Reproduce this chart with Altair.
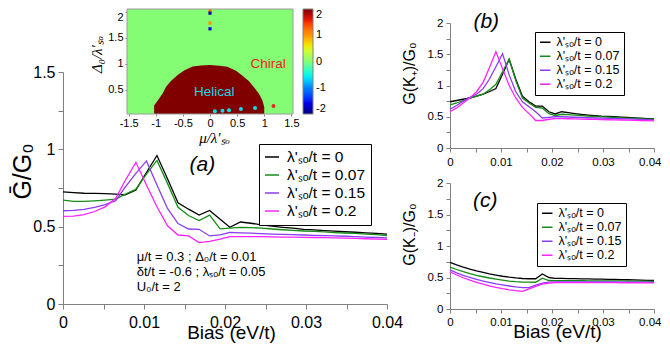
import altair as alt
import pandas as pd

# ---------------- data ----------------
bias = [0, 0.0013, 0.0026, 0.0039, 0.0052, 0.0065, 0.0077, 0.009, 0.0103, 0.0116,
        0.0129, 0.0142, 0.0155, 0.0168, 0.0181, 0.0194, 0.0206, 0.0219, 0.0232, 0.0245,
        0.0258, 0.0271, 0.0284, 0.0297, 0.031, 0.0323, 0.0335, 0.0348, 0.0361, 0.0374,
        0.0387, 0.04]

series_names = ["λ'ₛₒ/t = 0", "λ'ₛₒ/t = 0.07", "λ'ₛₒ/t = 0.15", "λ'ₛₒ/t = 0.2"]
series_colors = ["#000000", "#168c16", "#8a3cf2", "#ff22ff"]

a_black = [0.725, 0.72, 0.716, 0.715, 0.714, 0.711, 0.706, 0.737, 0.85, 0.96,
           0.81, 0.655, 0.613, 0.575, 0.605, 0.548, 0.496, 0.53, 0.522, 0.512,
           0.503, 0.496, 0.49, 0.483, 0.479, 0.475, 0.471, 0.467, 0.464, 0.46,
           0.457, 0.452]
a_green = [0.672, 0.664, 0.663, 0.667, 0.672, 0.678, 0.71, 0.742, 0.84, 0.928,
           0.78, 0.625, 0.572, 0.54, 0.575, 0.486, 0.49, 0.496, 0.494, 0.49,
           0.485, 0.48, 0.476, 0.472, 0.469, 0.466, 0.462, 0.459, 0.456, 0.452,
           0.448, 0.443]
a_purple = [0.603, 0.605, 0.612, 0.625, 0.643, 0.668, 0.757, 0.845, 0.925, 0.77,
            0.618, 0.52, 0.485, 0.483, 0.44, 0.447, 0.463, 0.46, 0.458, 0.455,
            0.452, 0.45, 0.448, 0.446, 0.444, 0.442, 0.44, 0.438, 0.436, 0.433,
            0.43, 0.427]
a_magenta = [0.566, 0.568, 0.578, 0.598, 0.628, 0.683, 0.80, 0.916, 0.77, 0.629,
             0.506, 0.446, 0.44, 0.397, 0.405, 0.42, 0.435, 0.436, 0.436, 0.435,
             0.434, 0.433, 0.432, 0.431, 0.43, 0.429, 0.428, 0.426, 0.424, 0.422,
             0.42, 0.418]

b_black = [0.74, 0.76, 0.78, 0.80, 0.83, 0.86, 0.90, 0.95, 1.18, 1.42,
           1.10, 0.83, 0.74, 0.67, 0.67, 0.58, 0.545, 0.58, 0.565, 0.55,
           0.537, 0.527, 0.518, 0.51, 0.505, 0.5, 0.494, 0.488, 0.482, 0.476,
           0.47, 0.465]
b_green = [0.69, 0.72, 0.76, 0.80, 0.83, 0.86, 0.93, 1.02, 1.22, 1.42,
           1.08, 0.80, 0.72, 0.65, 0.64, 0.55, 0.52, 0.54, 0.535, 0.526,
           0.517, 0.51, 0.504, 0.498, 0.493, 0.488, 0.483, 0.478, 0.473, 0.468,
           0.463, 0.458]
b_purple = [0.62, 0.68, 0.75, 0.81, 0.86, 0.95, 1.10, 1.30, 1.51, 1.17,
            0.90, 0.74, 0.66, 0.58, 0.48, 0.49, 0.50, 0.50, 0.496, 0.492,
            0.488, 0.484, 0.48, 0.477, 0.474, 0.471, 0.468, 0.465, 0.461, 0.457,
            0.453, 0.45]
b_magenta = [0.58, 0.64, 0.72, 0.80, 0.90, 1.05, 1.28, 1.54, 1.27, 1.0,
             0.80, 0.65, 0.55, 0.44, 0.44, 0.46, 0.47, 0.47, 0.468, 0.465,
             0.462, 0.46, 0.457, 0.455, 0.452, 0.45, 0.448, 0.445, 0.443, 0.44,
             0.438, 0.435]

c_black = [0.74, 0.70, 0.665, 0.633, 0.605, 0.58, 0.558, 0.538, 0.52, 0.505,
           0.493, 0.484, 0.48, 0.48, 0.555, 0.50, 0.486, 0.485, 0.483, 0.481,
           0.479, 0.477, 0.475, 0.473, 0.471, 0.469, 0.467, 0.464, 0.461, 0.458,
           0.455, 0.452]
c_green = [0.665, 0.627, 0.592, 0.562, 0.535, 0.512, 0.492, 0.474, 0.458, 0.444,
           0.433, 0.426, 0.425, 0.425, 0.49, 0.452, 0.45, 0.45, 0.45, 0.449,
           0.449, 0.448, 0.448, 0.447, 0.446, 0.445, 0.445, 0.444, 0.443, 0.442,
           0.441, 0.44]
c_purple = [0.62, 0.575, 0.535, 0.5, 0.47, 0.444, 0.421, 0.4, 0.382, 0.365,
            0.35, 0.34, 0.338, 0.38, 0.41, 0.425, 0.43, 0.43, 0.43, 0.43,
            0.43, 0.43, 0.43, 0.43, 0.429, 0.429, 0.428, 0.428, 0.427, 0.426,
            0.425, 0.424]
c_magenta = [0.59, 0.54, 0.496, 0.458, 0.424, 0.394, 0.366, 0.342, 0.322, 0.305,
             0.291, 0.28, 0.32, 0.36, 0.395, 0.41, 0.42, 0.42, 0.42, 0.42,
             0.42, 0.42, 0.419, 0.419, 0.418, 0.418, 0.417, 0.417, 0.416, 0.415,
             0.415, 0.414]

inset_mu_extent = [-1.53, 1.53]
inset_delta_extent = [0.036, 2.05]
dome_mu = [-1.03, -1.03, -0.96, -0.87, -0.81, -0.72, -0.59, -0.47, -0.32, -0.17, 0.0,
           0.17, 0.32, 0.48, 0.60, 0.72, 0.81, 0.90, 0.965, 1.0, 1.0]
dome_delta = [0.036, 0.2, 0.3, 0.435, 0.56, 0.67, 0.79, 0.875, 0.945, 0.965, 0.975,
              0.96, 0.94, 0.865, 0.77, 0.665, 0.55, 0.43, 0.3, 0.17, 0.036]
dome_value = 2
background_value = 0
blob_mu = [0, 0, 0, 0]
blob_delta = [2.02, 1.97, 1.78, 1.67]
blob_value = [1.2, -1.8, 1.0, -1.6]
helical_dot_mu = [0.09, 0.23, 0.35, 0.57, 0.83]
helical_dot_delta = [0.087, 0.10, 0.11, 0.13, 0.15]
chiral_dot_mu = [1.17]
chiral_dot_delta = [0.19]
jet_domain = [-2, -1.5, -1, -0.5, 0, 0.5, 1, 1.5, 2]
jet_colors = ["#000080", "#0000ff", "#0080ff", "#14ffe2", "#84fd74",
              "#e2ff14", "#ff9700", "#ff2100", "#800000"]
colorbar_ticks = [-2, -1, 0, 1, 2]
inset_x_ticks = [-1.5, -1, -0.5, 0, 0.5, 1, 1.5]
inset_y_ticks = [0.5, 1, 1.5, 2]

x_ticks = [0, 0.005, 0.01, 0.015, 0.02, 0.025, 0.03, 0.035, 0.04]
x_major = [0, 0.01, 0.02, 0.03, 0.04]
ya_ticks = [0, 0.25, 0.5, 0.75, 1, 1.25, 1.5]
ya_major = [0, 0.5, 1, 1.5]
ybc_ticks = [0, 0.25, 0.5, 0.75, 1, 1.25, 1.5, 1.75, 2]
ybc_major = [0, 0.5, 1, 1.5, 2]

# ---------------- styling ----------------
FONT = "Liberation Sans"
GRAY = "#808080"
W, H = 654, 336


def long_df(panel_vals):
    rows = []
    for name, ys in zip(series_names, panel_vals):
        for b, g in zip(bias, ys):
            rows.append({"bias": b, "G": g, "series": name})
    return pd.DataFrame(rows)


def label_expr(major):
    return f"indexof({major}, datum.value) >= 0 ? '' + datum.value : ''"


def make_axis(orient, offset, ticks, major, label_size, tick=5, pad=3, title=None,
              title_size=20, title_x=None, title_y=None, flush_last=False):
    kw = dict(orient=orient, offset=offset, values=ticks, labelExpr=label_expr(major),
              tickSize=tick, tickColor=GRAY, domainColor=GRAY,
              labelFont=FONT, labelFontSize=label_size, labelColor="black",
              labelPadding=pad, labelOverlap=False, labelFlush=False, grid=False)
    if flush_last:
        kw["labelAlign"] = {"condition": {"test": "datum.value == 0.04", "value": "right"},
                            "value": "center"}
        kw["labelOffset"] = {"condition": {"test": "datum.value == 0.04", "value": 7},
                             "value": 0}
    if title:
        kw.update(title=title, titleFont=FONT, titleFontSize=title_size,
                  titleFontWeight="normal", titleColor="black",
                  titleBaseline="alphabetic", titleX=title_x, titleY=title_y)
    else:
        kw["title"] = None
    return alt.Axis(**kw)


def make_legend(x, y, fs, sym, pad, rowpad, loff):
    return alt.Legend(orient="none", legendX=x, legendY=y, title=None, symbolType="stroke",
                      symbolSize=sym, symbolStrokeWidth=1.5, labelFont=FONT,
                      labelFontSize=fs, labelOffset=loff, padding=pad, rowPadding=rowpad,
                      labelLimit=400, strokeColor="black", fillColor="white",
                      cornerRadius=0, labelColor="black")


def panel(vals, xrange, yrange, ydom, xaxis, yaxis, leg_args, texts):
    df = long_df(vals)
    xs = alt.Scale(domain=[0, 0.04], range=xrange, nice=False, zero=False)
    ys = alt.Scale(domain=ydom, range=yrange, nice=False, zero=False)
    cs = alt.Scale(domain=series_names, range=series_colors)
    lines = alt.Chart(df).mark_line(strokeWidth=1.3).encode(
        x=alt.X("bias:Q", scale=xs, axis=xaxis),
        y=alt.Y("G:Q", scale=ys, axis=yaxis),
        color=alt.Color("series:N", scale=cs, legend=make_legend(*leg_args)),
    )
    layers = [lines]
    for tx, ty, txt, kw in texts:
        layers.append(
            alt.Chart(pd.DataFrame({"k": [0]})).mark_text(text=txt, font=FONT, **kw).encode(
                x=alt.XDatum(tx, type="quantitative", scale=xs, axis=xaxis),
                y=alt.YDatum(ty, type="quantitative", scale=ys, axis=yaxis),
            )
        )
    return alt.layer(*layers)


label_kw = dict(fontSize=21, fontStyle="italic", align="center", baseline="middle")
note_kw = dict(fontSize=13, align="left", baseline="middle")

pa = panel(
    [a_black, a_green, a_purple, a_magenta], [55, 379], [296, 64], [0, 1.5],
    make_axis("bottom", -40, x_ticks, x_major, 16, pad=5, title="Bias (eV/t)",
              title_size=19, title_x=223, title_y=34),
    make_axis("left", -55, ya_ticks, ya_major, 16, pad=3, title="Ḡ/G₀", title_size=25,
              title_x=-33, title_y=163),
    (251, 136, 15.5, 196, 5, 1, 7),
    [(0.0172, 0.90, "(a)", label_kw),
     (0.0091, 0.307, "μ/t = 0.3 ; Δ₀/t = 0.01", note_kw),
     (0.0091, 0.21, "δt/t = -0.6 ; λₛₒ/t = 0.05", note_kw),
     (0.0091, 0.113, "U₀/t = 2", note_kw)],
)

pb = panel(
    [b_black, b_green, b_purple, b_magenta], [442, 646], [140, 15], [0, 2],
    make_axis("bottom", -196, x_ticks, x_major, 11.5, tick=4, pad=4, flush_last=True),
    make_axis("left", -442, ybc_ticks, ybc_major, 11.5, tick=4, pad=3, title="G(K₊)/G₀",
              title_size=16, title_x=-36, title_y=65),
    (527, 24, 12.5, 110, 4, 1, 5),
    [(0.0071, 2.02, "(b)", label_kw)],
)

pc = panel(
    [c_black, c_green, c_purple, c_magenta], [442, 646], [301, 175], [0, 2],
    make_axis("bottom", -35, x_ticks, x_major, 11.5, tick=4, pad=3, title="Bias (eV/t)",
              title_size=19, title_x=549, title_y=28, flush_last=True),
    make_axis("left", -442, ybc_ticks, ybc_major, 11.5, tick=4, pad=3, title="G(K₋)/G₀",
              title_size=16, title_x=-36, title_y=226),
    (529, 195, 12.5, 110, 4, 1, 5),
    [(0.0069, 1.72, "(c)", label_kw)],
)

# ---------------- inset ----------------
xi = alt.Scale(domain=inset_mu_extent, range=[119, 285], nice=False, zero=False)
yi = alt.Scale(domain=inset_delta_extent, range=[106, 1], nice=False, zero=False)
cscale = alt.Scale(type="linear", domain=jet_domain, range=jet_colors)

bg_df = pd.DataFrame({"m0": [inset_mu_extent[0]], "m1": [inset_mu_extent[1]],
                      "d0": [inset_delta_extent[0]], "d1": [inset_delta_extent[1]],
                      "v": [background_value]})
dome_df = pd.DataFrame({"mu": dome_mu, "delta": dome_delta,
                        "base": [inset_delta_extent[0]] * len(dome_mu),
                        "v": [dome_value] * len(dome_mu)})
blob_df = pd.DataFrame({"mu": blob_mu, "delta": blob_delta, "v": blob_value})
hdot_df = pd.DataFrame({"mu": helical_dot_mu, "delta": helical_dot_delta})
cdot_df = pd.DataFrame({"mu": chiral_dot_mu, "delta": chiral_dot_delta})

ax_inset_x = alt.Axis(orient="bottom", offset=-230, values=inset_x_ticks,
                      labelExpr="'' + datum.value", domain=False, tickSize=2,
                      tickColor=GRAY, labelFont=FONT, labelFontSize=11, labelColor="black",
                      labelPadding=1, labelOverlap=False, labelFlush=False, grid=False,
                      title="μ/λ'ₛₒ", titleFont="Liberation Serif",
                      titleFontStyle="italic", titleFontSize=15, titleFontWeight="normal",
                      titleColor="black", titleBaseline="alphabetic", titleX=206, titleY=28)
ax_inset_y = alt.Axis(orient="left", offset=-119, values=inset_y_ticks,
                      labelExpr="'' + datum.value", domain=False, tickSize=2,
                      tickColor=GRAY, labelFont=FONT, labelFontSize=11, labelColor="black",
                      labelPadding=2, labelOverlap=False, labelFlush=False,
                      labelBaseline={"condition": {"test": "datum.value == 2", "value": "top"},
                                     "value": "middle"},
                      grid=False, title="Δ₀/λ'ₛₒ", titleFont="Liberation Serif",
                      titleFontStyle="italic", titleFontSize=15, titleFontWeight="normal",
                      titleColor="black", titleBaseline="alphabetic", titleX=-26, titleY=46)
grad_legend = alt.Legend(orient="none", legendX=295, legendY=1, direction="vertical",
                         type="gradient", title=None, values=colorbar_ticks,
                         labelExpr="'' + datum.value", gradientLength=105,
                         gradientThickness=10, gradientStrokeColor=GRAY,
                         gradientStrokeWidth=1, labelFont=FONT, labelFontSize=11,
                         labelOffset=3, padding=0, labelColor="black", labelOverlap=False)


def ix(field):
    return alt.X(field, type="quantitative", scale=xi, axis=ax_inset_x)


def iy(field, **kw):
    return alt.Y(field, type="quantitative", scale=yi, axis=ax_inset_y, **kw)


bg = alt.Chart(bg_df).mark_rect().encode(
    x=ix("m0"), x2="m1:Q", y=iy("d0"), y2="d1:Q",
    color=alt.Color("v:Q", scale=cscale, legend=grad_legend),
)
dome = alt.Chart(dome_df).mark_area(interpolate="linear").encode(
    x=ix("mu"), y=iy("delta", stack=None), y2="base:Q",
    color=alt.Color("v:Q", scale=cscale, legend=grad_legend),
)
blobs = alt.Chart(blob_df).mark_square(size=10, opacity=1).encode(
    x=ix("mu"), y=iy("delta"),
    color=alt.Color("v:Q", scale=cscale, legend=grad_legend),
)
frame = alt.Chart(bg_df).mark_rect(fillOpacity=0, stroke="#9a9a9a", strokeWidth=1).encode(
    x=ix("m0"), x2="m1:Q", y=iy("d0"), y2="d1:Q",
)
hdots = alt.Chart(hdot_df).mark_circle(size=16, color="#11dde8", opacity=1).encode(
    x=ix("mu"), y=iy("delta"))
cdots = alt.Chart(cdot_df).mark_circle(size=16, color="#ee2222", opacity=1).encode(
    x=ix("mu"), y=iy("delta"))
one = pd.DataFrame({"k": [0]})
t_hel = alt.Chart(one).mark_text(text="Helical", font=FONT, fontSize=13.5, color="#1ad3e0",
                                 align="center", baseline="middle").encode(
    x=alt.XDatum(0.08, type="quantitative", scale=xi, axis=ax_inset_x),
    y=alt.YDatum(0.46, type="quantitative", scale=yi, axis=ax_inset_y))
t_chi = alt.Chart(one).mark_text(text="Chiral", font=FONT, fontSize=13.5, color="#ee2222",
                                 align="center", baseline="middle").encode(
    x=alt.XDatum(1.07, type="quantitative", scale=xi, axis=ax_inset_x),
    y=alt.YDatum(1.0, type="quantitative", scale=yi, axis=ax_inset_y))

inset = alt.layer(bg, dome, blobs, frame, hdots, cdots, t_hel, t_chi)

chart = (
    alt.layer(inset, pa, pb, pc)
    .resolve_scale(x="independent", y="independent", color="independent")
    .resolve_axis(x="independent", y="independent")
    .resolve_legend(color="independent")
    .properties(width=W, height=H, autosize=alt.AutoSizeParams(type="none"), padding=0)
    .configure_view(stroke=None)
)

chart.save("out.html", embed_options={"renderer": "svg", "actions": False})
